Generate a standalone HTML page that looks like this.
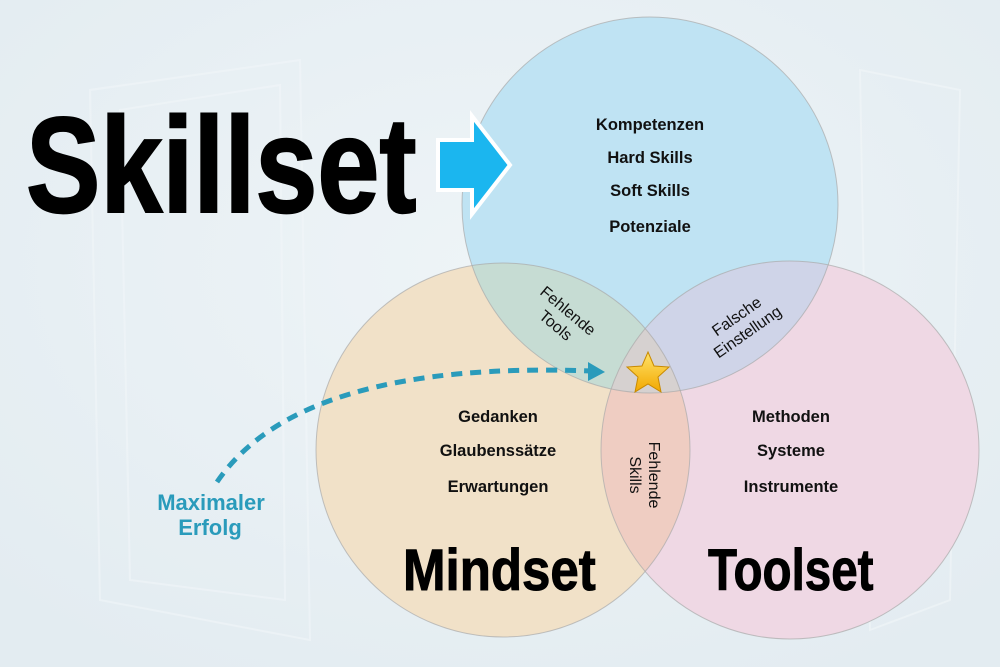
<!DOCTYPE html>
<html><head><meta charset="utf-8"><style>
html,body{margin:0;padding:0;width:1000px;height:667px;overflow:hidden;background:#e9f1f5}
svg{display:block}
text{font-family:"Liberation Sans",sans-serif}
</style></head><body>
<svg width="1000" height="667" viewBox="0 0 1000 667" xmlns="http://www.w3.org/2000/svg">
<defs>
<radialGradient id="bg" cx="50%" cy="40%" r="70%"><stop offset="0" stop-color="#eef4f7"/><stop offset="1" stop-color="#e3ecf1"/></radialGradient>
<linearGradient id="st" x1="0" y1="0" x2="0" y2="1"><stop offset="0" stop-color="#ffe36a"/><stop offset="1" stop-color="#f2a800"/></linearGradient>
<clipPath id="cB"><circle cx="650" cy="205" r="188"/></clipPath>
<clipPath id="cM"><circle cx="503" cy="450" r="187"/></clipPath>
<clipPath id="cT"><circle cx="790" cy="450" r="189"/></clipPath>
</defs>
<rect width="1000" height="667" fill="url(#bg)"/>
<g fill="none" stroke="#f3f7fa" stroke-width="2" opacity="0.5">
<path d="M90 90 L300 60 L310 640 L100 600Z"/><path d="M120 110 L280 85 L285 600 L130 580Z"/>
<path d="M860 70 L960 90 L950 600 L870 630Z"/>
</g>
<circle cx="503" cy="450" r="187" fill="#f1e1c8"/>
<circle cx="790" cy="450" r="189" fill="#efd8e4"/>
<circle cx="650" cy="205" r="188" fill="#bfe3f3"/>
<g clip-path="url(#cB)"><circle cx="503" cy="450" r="187" fill="#c6dcd3"/><circle cx="790" cy="450" r="189" fill="#cfd4e8"/></g>
<g clip-path="url(#cM)"><circle cx="790" cy="450" r="189" fill="#efcdc2"/></g>
<g clip-path="url(#cM)"><g clip-path="url(#cT)"><circle cx="650" cy="205" r="188" fill="#d6d1d0"/></g></g>
<g fill="none" stroke="#a9a9a9" stroke-width="1" stroke-opacity="0.7">
<circle cx="503" cy="450" r="187"/><circle cx="790" cy="450" r="189"/><circle cx="650" cy="205" r="188"/>
</g>
<g fill="#111" font-size="16.5" font-weight="bold" text-anchor="middle">
<text x="650" y="130">Kompetenzen</text>
<text x="650" y="163">Hard Skills</text>
<text x="650" y="196">Soft Skills</text>
<text x="650" y="232">Potenziale</text>
<text x="498" y="422">Gedanken</text>
<text x="498" y="456">Glaubenssätze</text>
<text x="498" y="492">Erwartungen</text>
<text x="791" y="422">Methoden</text>
<text x="791" y="456">Systeme</text>
<text x="791" y="492">Instrumente</text>
</g>
<g fill="#111" font-size="16" text-anchor="middle">
<g transform="translate(562,318) rotate(40)"><text x="0" y="-4">Fehlende</text><text x="0" y="15">Tools</text></g>
<g transform="translate(742,324) rotate(-35)"><text x="0" y="-4">Falsche</text><text x="0" y="15">Einstellung</text></g>
<g transform="translate(645,475) rotate(90)"><text x="0" y="-4">Fehlende</text><text x="0" y="15">Skills</text></g>
</g>
<polygon points="648,352 654,366 669,367 658,377 661,392 648,384 635,392 638,377 627,367 642,366" fill="url(#st)" stroke="#c98a00" stroke-width="1"/>
<path d="M217,482 Q300,360 592,371" fill="none" stroke="#2a9bbb" stroke-width="5" stroke-dasharray="11,8"/>
<polygon points="588,362 605,372 588,381" fill="#2a9bbb"/>
<g fill="#2a9bbb" font-size="22" font-weight="bold" text-anchor="middle">
<text x="211" y="510">Maximaler</text><text x="210" y="535">Erfolg</text>
</g>
<text transform="translate(26,212) scale(0.82,1)" font-size="136" font-weight="bold" fill="#000" stroke="#000" stroke-width="2">Skillset</text>
<text transform="translate(403,590) scale(0.88,1)" font-size="58" font-weight="bold" fill="#000" stroke="#000" stroke-width="1">Mindset</text>
<text transform="translate(708,590) scale(0.82,1)" font-size="58" font-weight="bold" fill="#000" stroke="#000" stroke-width="1">Toolset</text>
<polygon points="438,140 472,140 472,116 510,165 472,214 472,190 438,190" fill="#1bb6ef" stroke="#fff" stroke-width="4" stroke-linejoin="miter"/>
</svg>
</body></html>
